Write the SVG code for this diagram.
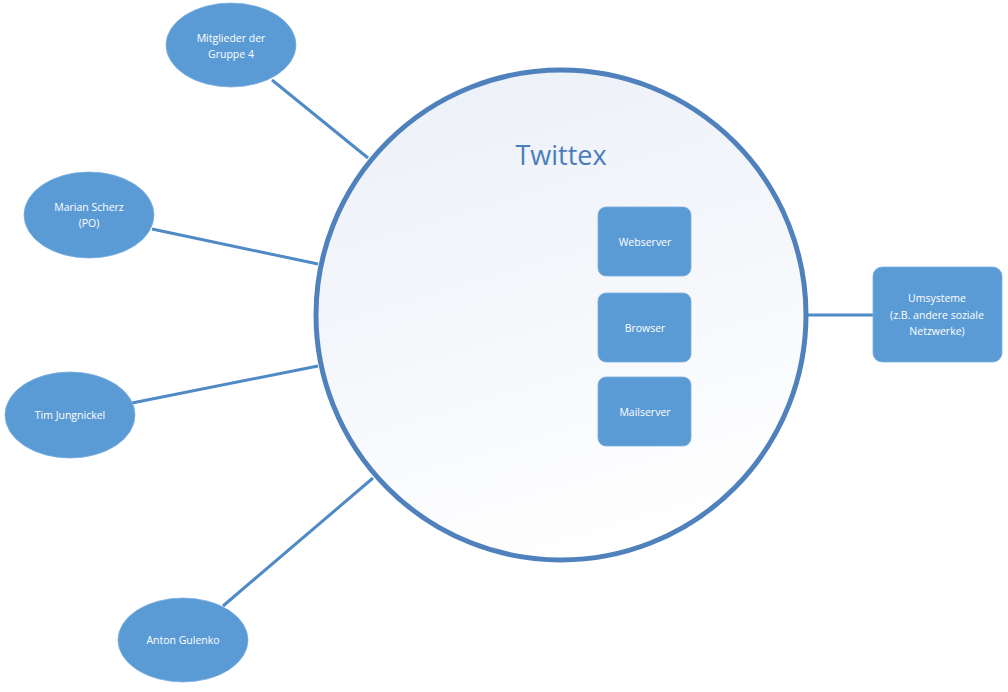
<svg xmlns="http://www.w3.org/2000/svg" width="1008" height="692" viewBox="0 0 1008 692">
<style>
.node{fill:#5b9bd5;stroke:#7aaee0;stroke-width:0.8}
.lbl{font-family:"Open Sans","Liberation Sans",sans-serif;font-size:10.5px;fill:#ffffff;text-anchor:middle}
.conn{stroke:#4f89c6;stroke-width:3;fill:none}
</style>
<defs>
<linearGradient id="cg" x1="0.3" y1="0" x2="0.6" y2="1">
<stop offset="0" stop-color="#edf1f8"/>
<stop offset="0.5" stop-color="#f5f7fb"/>
<stop offset="1" stop-color="#ffffff"/>
</linearGradient>
</defs>
<rect width="1008" height="692" fill="#ffffff"/>
<g id="connectors">
<line class="conn" x1="272" y1="80" x2="368" y2="158"/>
<line class="conn" x1="152" y1="229" x2="318" y2="264"/>
<line class="conn" x1="132" y1="403" x2="318" y2="366"/>
<line class="conn" x1="223" y1="606" x2="373" y2="478"/>
<line class="conn" x1="806" y1="315" x2="873" y2="315"/>
</g>
<g id="twittex">
<circle cx="561" cy="315" r="245" fill="url(#cg)" stroke="#4f81bd" stroke-width="5"/>
<text x="561" y="165" font-family="'Open Sans','Liberation Sans',sans-serif" font-size="27" fill="#4a7ebb" text-anchor="middle">Twittex</text>
</g>
<g id="webserver">
<rect class="node" x="598" y="207" width="93" height="69" rx="8"/>
<text class="lbl" x="645" y="246">Webserver</text>
</g>
<g id="browser">
<rect class="node" x="598" y="293" width="93" height="69" rx="8"/>
<text class="lbl" x="645" y="332">Browser</text>
</g>
<g id="mailserver">
<rect class="node" x="598" y="377" width="93" height="69" rx="8"/>
<text class="lbl" x="645" y="416">Mailserver</text>
</g>
<g id="umsysteme">
<rect class="node" x="873" y="267" width="129" height="95" rx="9"/>
<text class="lbl" x="937" y="302">Umsysteme</text>
<text class="lbl" x="937" y="319">(z.B. andere soziale</text>
<text class="lbl" x="937" y="335">Netzwerke)</text>
</g>
<g id="mitglieder">
<ellipse class="node" cx="231" cy="45" rx="65" ry="42"/>
<text class="lbl" x="231" y="42">Mitglieder der</text>
<text class="lbl" x="231" y="58">Gruppe 4</text>
</g>
<g id="marian">
<ellipse class="node" cx="89" cy="215" rx="65" ry="43"/>
<text class="lbl" x="89" y="211">Marian Scherz</text>
<text class="lbl" x="89" y="227">(PO)</text>
</g>
<g id="tim">
<ellipse class="node" cx="70" cy="415" rx="65" ry="43"/>
<text class="lbl" x="70" y="419">Tim Jungnickel</text>
</g>
<g id="anton">
<ellipse class="node" cx="183" cy="640" rx="65" ry="42"/>
<text class="lbl" x="183" y="644">Anton Gulenko</text>
</g>
</svg>
